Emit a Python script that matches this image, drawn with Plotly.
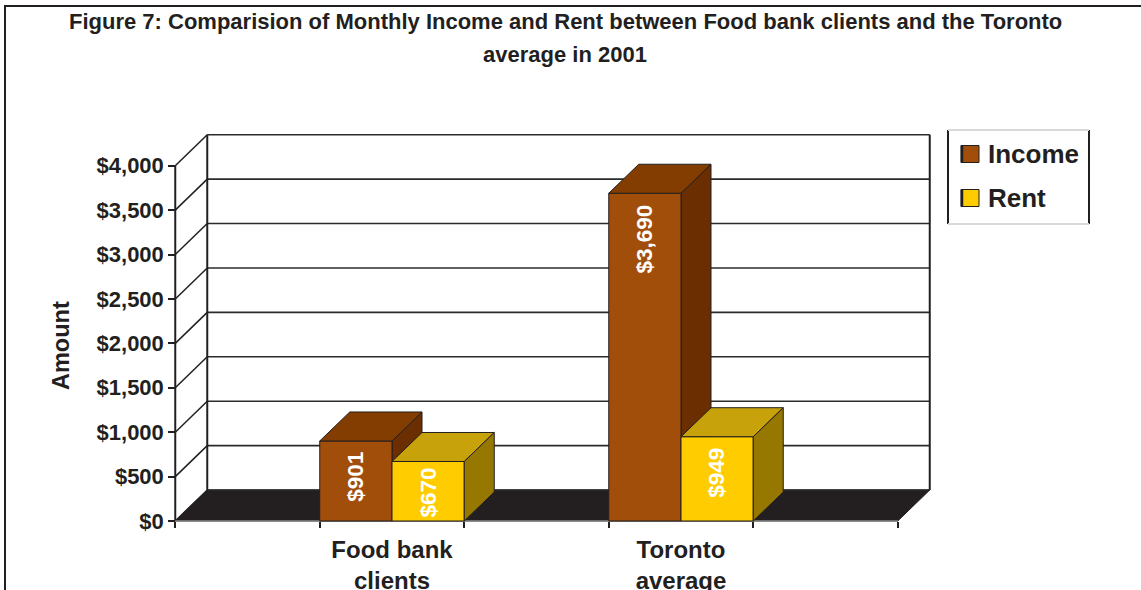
import plotly.graph_objects as go

# ---------------- data ----------------
categories = ["Food bank<br>clients", "Toronto<br>average"]
series_names = ["Income", "Rent"]
income = [901, 3690]
rent = [670, 949]
income_labels = ["$901", "$3,690"]
rent_labels = ["$670", "$949"]
y_tickvals = [0, 500, 1000, 1500, 2000, 2500, 3000, 3500, 4000]
y_ticktext = ["$0", "$500", "$1,000", "$1,500", "$2,000", "$2,500", "$3,000", "$3,500", "$4,000"]
title_lines = ["Figure 7: Comparision of Monthly Income and Rent between Food bank clients and the Toronto",
               "average in 2001"]
y_title = "Amount"

# ---------------- styling / geometry ----------------
W, H = 1141, 590
L, R, T, B = 160, 945, 125, 530
PX_PER_UNIT = 289.0
X0_PX = 392.0
K = 0.088825          # px per dollar
Y0_PX = 521.0
xr = [(L - X0_PX) / PX_PER_UNIT, (R - X0_PX) / PX_PER_UNIT]
yr = [(Y0_PX - B) / K, (Y0_PX - T) / K]

XL, XR = -0.75, 1.75
WDX, WDY = 32 / PX_PER_UNIT, 31 / K
BDX, BDY = 30 / PX_PER_UNIT, 29 / K
BAR_W = 0.25
YMAX = y_tickvals[-1]

DARK = "#231f20"
colors = {
    "Income": {"front": "#a24e0b", "top": "#843d00", "side": "#6a2e00"},
    "Rent": {"front": "#ffcc00", "top": "#c8a20a", "side": "#967800"},
}
FONT = "Liberation Sans, Arial, sans-serif"

def px(xp):
    return (xp - L) / (R - L)

def py(yp):
    return (B - yp) / (B - T)

xpos = list(range(len(categories)))

fig = go.Figure()

shapes = []
# floor
shapes.append(dict(type="path", xref="x", yref="y", layer="below",
                   path=f"M {XL},0 L {XR},0 L {XR+WDX},{WDY} L {XL+WDX},{WDY} Z",
                   fillcolor=DARK, line=dict(color=DARK, width=1)))
# gridlines on side wall and back wall
for v in y_tickvals:
    shapes.append(dict(type="line", xref="x", yref="y", layer="below",
                       x0=XL, y0=v, x1=XL + WDX, y1=v + WDY, line=dict(color=DARK, width=1.5)))
    shapes.append(dict(type="line", xref="x", yref="y", layer="below",
                       x0=XL + WDX, y0=v + WDY, x1=XR + WDX, y1=v + WDY, line=dict(color="#2b2b2b", width=1.6)))
# back wall vertical edges
for xe in (XL + WDX, XR + WDX):
    shapes.append(dict(type="line", xref="x", yref="y", layer="below",
                       x0=xe, y0=WDY, x1=xe, y1=YMAX + WDY, line=dict(color=DARK, width=2)))
# front value axis line
shapes.append(dict(type="line", xref="x", yref="y", layer="below",
                   x0=XL, y0=0, x1=XL, y1=YMAX, line=dict(color=DARK, width=2)))
# front floor edge
shapes.append(dict(type="line", xref="x", yref="y", layer="below",
                   x0=XL, y0=0, x1=XR, y1=0, line=dict(color="#8a8a8a", width=1.5)))

def faces(xl, xr_, v, name, side_layer):
    c = colors[name]
    top = dict(type="path", xref="x", yref="y", layer="above",
               path=f"M {xl},{v} L {xr_},{v} L {xr_+BDX},{v+BDY} L {xl+BDX},{v+BDY} Z",
               fillcolor=c["top"], line=dict(color=DARK, width=1))
    side = dict(type="path", xref="x", yref="y", layer=side_layer,
                path=f"M {xr_},0 L {xr_},{v} L {xr_+BDX},{v+BDY} L {xr_+BDX},{BDY} Z",
                fillcolor=c["side"], line=dict(color=DARK, width=1))
    return top, side

above_shapes = []
for i, x in enumerate(xpos):
    t1, s1 = faces(x - BAR_W, x, income[i], "Income", "below")
    t2, s2 = faces(x, x + BAR_W, rent[i], "Rent", "above")
    shapes.append(s1)
    above_shapes += [t1, t2, s2]
shapes += above_shapes

# bars (front faces)
fig.add_trace(go.Bar(x=xpos, y=income, name=series_names[0], width=BAR_W, offset=-BAR_W,
                     marker=dict(color=colors["Income"]["front"], line=dict(color=DARK, width=1)),
                     showlegend=False, hoverinfo="skip"))
fig.add_trace(go.Bar(x=xpos, y=rent, name=series_names[1], width=BAR_W, offset=0,
                     marker=dict(color=colors["Rent"]["front"], line=dict(color=DARK, width=1)),
                     showlegend=False, hoverinfo="skip"))

annotations = []
# data labels (rotated, inside the top of each bar)
for i, x in enumerate(xpos):
    for xc, v, lab in ((x - BAR_W / 2, income[i], income_labels[i]), (x + BAR_W / 2, rent[i], rent_labels[i])):
        shift = -4 if v * K < 70 else -9
        annotations.append(dict(x=xc, y=v, xref="x", yref="y", text=lab, showarrow=False,
                                textangle=-90, xanchor="center", yanchor="top", yshift=shift,
                                font=dict(family=FONT, size=22.5, color="white", weight=700)))
# title
for yc, line in zip((22, 55), title_lines):
    annotations.append(dict(x=px(565), y=py(yc), xref="paper", yref="paper", text=line,
                            showarrow=False, xanchor="center", yanchor="middle",
                            font=dict(family=FONT, size=22, color=DARK, weight=700)))
# y title
annotations.append(dict(x=px(61), y=py(346), xref="paper", yref="paper", text=y_title,
                        showarrow=False, textangle=-90, xanchor="center", yanchor="middle",
                        font=dict(family=FONT, size=23.5, color=DARK, weight=700)))

# legend (manual)
shapes.append(dict(type="line", xref="paper", yref="paper", x0=px(948), y0=py(130), x1=px(948), y1=py(224),
                   line=dict(color=DARK, width=2)))
shapes.append(dict(type="line", xref="paper", yref="paper", x0=px(1089), y0=py(130), x1=px(1089), y1=py(224),
                   line=dict(color=DARK, width=2)))
shapes.append(dict(type="line", xref="paper", yref="paper", x0=px(948), y0=py(130), x1=px(1089), y1=py(130),
                   line=dict(color="#d9d9d9", width=2)))
shapes.append(dict(type="line", xref="paper", yref="paper", x0=px(948), y0=py(224), x1=px(1089), y1=py(224),
                   line=dict(color="#d9d9d9", width=2)))
for j, (name, yc) in enumerate(zip(series_names, (154, 198))):
    shapes.append(dict(type="rect", xref="paper", yref="paper",
                       x0=px(961), x1=px(979), y0=py(yc - 8.5), y1=py(yc + 8.5),
                       fillcolor=colors[name]["front"], line=dict(color=DARK, width=1)))
    shapes.append(dict(type="line", xref="paper", yref="paper",
                       x0=px(962), x1=px(962), y0=py(yc - 8.5), y1=py(yc + 8.5),
                       line=dict(color=DARK, width=2.5)))
    annotations.append(dict(x=px(986), y=py(yc), xref="paper", yref="paper", text=name, showarrow=False,
                            xanchor="left", yanchor="middle",
                            font=dict(family=FONT, size=26, color=DARK, weight=700)))

# outer frame
shapes.append(dict(type="rect", xref="paper", yref="paper", x0=px(5), y0=py(6), x1=px(1160), y1=py(620),
                   line=dict(color=DARK, width=2), fillcolor="rgba(0,0,0,0)", layer="below"))

fig.update_layout(
    width=W, height=H,
    margin=dict(l=L, r=W - R, t=T, b=H - B, autoexpand=False),
    paper_bgcolor="white", plot_bgcolor="white",
    barmode="overlay",
    showlegend=False,
    shapes=shapes,
    annotations=annotations,
    xaxis=dict(range=xr, tickmode="array", tickvals=xpos, ticktext=categories,
               ticks="", showgrid=False, zeroline=False, showline=False, automargin=False,
               anchor="free", position=(0 - yr[0]) / (yr[1] - yr[0]),
               tickfont=dict(family=FONT, size=24, color=DARK, weight=700),
               ticklabelstandoff=12,
               minor=dict(tickmode="array", tickvals=[XL, -0.25, 0.25, 0.75, 1.25, XR],
                          ticks="outside", ticklen=6, tickcolor=DARK, tickwidth=1.5, showgrid=False),
               fixedrange=True),
    yaxis=dict(range=yr, tickmode="array", tickvals=y_tickvals, ticktext=y_ticktext,
               ticks="outside", ticklen=7, tickcolor=DARK, tickwidth=1.5, automargin=False,
               showgrid=False, zeroline=False, showline=False,
               anchor="free", position=(XL - xr[0]) / (xr[1] - xr[0]),
               tickfont=dict(family=FONT, size=22, color=DARK, weight=700),
               fixedrange=True),
)

fig.write_html("out.html")
